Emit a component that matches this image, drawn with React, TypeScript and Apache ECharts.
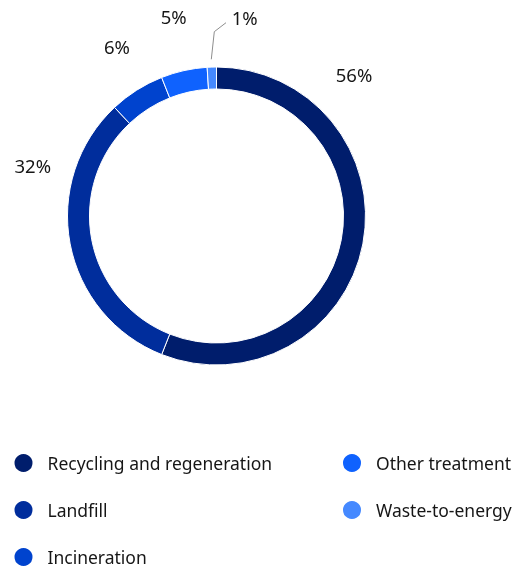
import React, { useEffect, useRef } from "react";
import * as echarts from "echarts";

const categories = [
  "Recycling and regeneration",
  "Landfill",
  "Incineration",
  "Other treatment",
  "Waste-to-energy",
];
const values = [56, 32, 6, 5, 1];
const colors = ["#001d6c", "#002d9c", "#0043ce", "#0f62fe", "#4589ff"];
const legendCol1 = ["Recycling and regeneration", "Landfill", "Incineration"];
const legendCol2 = ["Other treatment", "Waste-to-energy"];

// label placement offsets relative to pie centre (styling)
const CX = 216.5;
const CY = 216;
const labelOffsets: number[][] = [
  [137.5, -141.3],
  [-183.7, -51],
  [-99.5, -170],
  [-42.8, -199.3],
  [15.2, -199],
];

const FONT = "'Noto Sans', 'Open Sans', sans-serif";

export default function App() {
  const ref = useRef<HTMLDivElement>(null);
  useEffect(() => {
    if (!ref.current) return;
    const chart = echarts.init(ref.current, null, { renderer: "svg" });
    const legendCommon = {
      orient: "vertical" as const,
      icon: "circle",
      itemWidth: 38,
      itemHeight: 20,
      itemGap: 25,
      height: 200,
      selectedMode: false,
      textStyle: {
        fontFamily: FONT,
        fontSize: 17.5,
        color: "#161616",
      },
    };
    chart.setOption({
      animation: false,
      color: colors,
      legend: [
        { ...legendCommon, data: legendCol1, left: 7.5, top: 447 },
        { ...legendCommon, data: legendCol2, left: 336, top: 447 },
      ],
      series: [
        {
          type: "pie",
          center: [CX, CY],
          radius: [127, 149],
          startAngle: 90,
          clockwise: true,
          avoidLabelOverlap: false,
          itemStyle: { borderColor: "#ffffff", borderWidth: 1 },
          label: {
            show: true,
            position: "outside",
            formatter: "{c}%",
            fontFamily: FONT,
            fontSize: 18.5,
            color: "#161616",
          },
          labelLine: { show: false },
          emphasis: { disabled: true },
          labelLayout: (params: any) => {
            const i = params.dataIndex;
            const o = labelOffsets[i];
            if (i === 4) {
              return {
                x: CX + o[0],
                y: CY + o[1],
                align: "left",
                verticalAlign: "middle",
                labelLinePoints: [
                  [211.3, 59.3],
                  [214.3, 31.7],
                  [226, 22.7],
                ],
              };
            }
            return {
              x: CX + o[0],
              y: CY + o[1],
              align: "center",
              verticalAlign: "middle",
            };
          },
          data: categories.map((name, i) => ({
            name,
            value: values[i],
            labelLine:
              i === 4
                ? { show: true, lineStyle: { color: "#8d8d8d", width: 1 } }
                : { show: false },
          })),
        },
      ],
    });
    return () => chart.dispose();
  }, []);
  return (
    <div
      ref={ref}
      style={{ position: "fixed", left: 0, top: 0, width: 521, height: 570 }}
    />
  );
}
